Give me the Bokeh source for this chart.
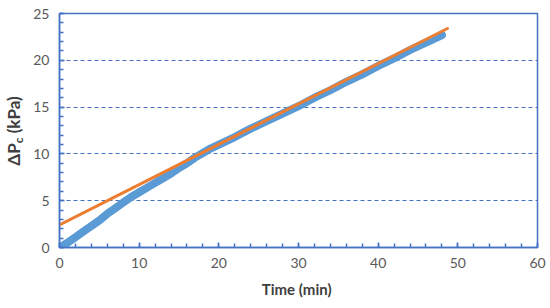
from bokeh.plotting import figure
from bokeh.models import Range1d, FixedTicker, Div
from bokeh.layouts import row
from bokeh.embed import file_html
from bokeh.resources import INLINE

# measured pressure drop (blue) vs time
time_min = [0, 1, 2, 3, 4, 5, 6, 7, 8, 9, 10, 11, 12, 13, 14, 15, 16, 17, 18, 19, 20,
            22, 24, 26, 28, 30, 32, 34, 36, 38, 40, 42, 44, 46, 48]
dp_kpa = [0.0, 0.5, 1.1, 1.7, 2.3, 2.9, 3.6, 4.2, 4.8, 5.4, 5.9, 6.4, 6.9, 7.4, 7.9, 8.5,
          9.0, 9.6, 10.1, 10.6, 11.0, 11.8, 12.7, 13.5, 14.3, 15.1, 16.0, 16.8, 17.7,
          18.5, 19.4, 20.2, 21.1, 21.9, 22.7]

# linear fit (orange)
fit_x = [0, 48.7]
fit_y = [2.4, 23.4]

x_ticks = [0, 10, 20, 30, 40, 50, 60]
y_ticks = [0, 5, 10, 15, 20, 25]

AX = "#4472C4"
TICK_FONT = "Lato"
DIV_W = 30

p = figure(width=550 - DIV_W, height=308, output_backend="svg", toolbar_location=None,
           x_range=Range1d(0, 60), y_range=Range1d(0, 25),
           min_border_left=59 - DIV_W, min_border_right=13, min_border_top=13,
           min_border_bottom=61)
p.background_fill_color = "white"
p.border_fill_color = "white"
p.outline_line_color = AX
p.outline_line_width = 1.5

p.line(time_min, dp_kpa, line_color="#5B9BD5", line_width=8, line_cap="round", line_join="round")
p.line(fit_x, fit_y, line_color="#ED7D31", line_width=3, line_cap="round")

for ax in (p.xaxis[0], p.yaxis[0]):
    ax.axis_line_color = AX
    ax.axis_line_width = 1.5
    ax.major_tick_line_color = AX
    ax.minor_tick_line_color = AX
    ax.major_tick_in = 5
    ax.major_tick_out = 0
    ax.minor_tick_in = 4
    ax.minor_tick_out = 0
    ax.major_tick_line_width = 1.5
    ax.minor_tick_line_width = 1.5
    ax.major_label_text_color = "#595959"
    ax.major_label_text_font = TICK_FONT
    ax.major_label_text_font_size = "14px"
    ax.major_label_standoff = 10

p.xaxis.ticker = FixedTicker(ticks=x_ticks, minor_ticks=list(range(0, 61, 2)))
p.yaxis.ticker = FixedTicker(ticks=y_ticks, minor_ticks=list(range(0, 26, 1)))

p.xaxis.axis_label = "Time  (min)"
p.xaxis.axis_label_text_font = TICK_FONT
p.xaxis.axis_label_text_font_style = "bold"
p.xaxis.axis_label_text_font_size = "15px"
p.xaxis.axis_label_text_color = "#404040"
p.xaxis.axis_label_standoff = 9

p.xgrid.grid_line_color = None
p.ygrid.grid_line_color = AX
p.ygrid.grid_line_dash = "4 3"
p.ygrid.grid_line_width = 1.2

# y-axis title with subscript, as rotated HTML text
ylabel_html = (
    '<div style="position:absolute; left:15px; top:131px; '
    'transform:translate(-50%,-50%) rotate(-90deg); white-space:nowrap; '
    'font-family:Lato; font-weight:bold; font-size:17px; color:#404040;">'
    '&Delta;P<sub style="font-size:12px; vertical-align:-3px;">c</sub> (kPa)</div>'
)
ylab = Div(text=ylabel_html, width=DIV_W, height=308, margin=0,
           styles={"position": "relative", "overflow": "visible"})

layout = row(ylab, p, spacing=0)
open("out.html", "w").write(file_html(layout, INLINE))
